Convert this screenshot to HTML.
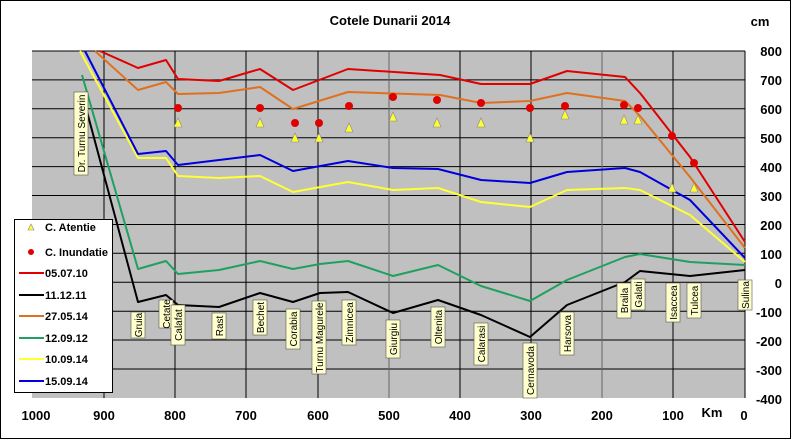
<!DOCTYPE html>
<html><head><meta charset="utf-8"><style>
body{margin:0;background:#fff;}
svg{display:block;font-family:"Liberation Sans",Arial,sans-serif;}
</style></head><body>
<svg width="791" height="439" viewBox="0 0 791 439" xmlns="http://www.w3.org/2000/svg">
<rect x="0.5" y="0.5" width="790" height="438" fill="#fff" stroke="#000"/>
<text x="390" y="25" font-size="13" font-weight="bold" text-anchor="middle">Cotele Dunarii 2014</text>
<text x="760" y="26" font-size="13" font-weight="bold" text-anchor="middle">cm</text>
<rect x="32" y="51" width="713" height="347" fill="#c0c0c0"/>
<g stroke="#000" stroke-width="1">
<line x1="32" x2="745" y1="79.9" y2="79.9"/><line x1="32" x2="745" y1="108.8" y2="108.8"/>
<line x1="32" x2="745" y1="137.8" y2="137.8"/><line x1="32" x2="745" y1="166.6" y2="166.6"/>
<line x1="32" x2="745" y1="195.5" y2="195.5"/><line x1="32" x2="745" y1="224.5" y2="224.5"/>
<line x1="32" x2="745" y1="253.3" y2="253.3"/><line x1="32" x2="745" y1="282.3" y2="282.3"/>
<line x1="32" x2="745" y1="311.2" y2="311.2"/><line x1="32" x2="745" y1="340" y2="340"/>
<line x1="32" x2="745" y1="369" y2="369"/>
<line x1="32" x2="745" y1="51" y2="51"/>
<line x1="104" x2="104" y1="51" y2="398"/><line x1="175" x2="175" y1="51" y2="398"/>
<line x1="246" x2="246" y1="51" y2="398"/><line x1="318" x2="318" y1="51" y2="398"/>
<line x1="389" x2="389" y1="51" y2="398" stroke="#666"/><line x1="460" x2="460" y1="51" y2="398"/>
<line x1="531" x2="531" y1="51" y2="398"/><line x1="602" x2="602" y1="51" y2="398" stroke="#666"/>
<line x1="673" x2="673" y1="51" y2="398"/><line x1="745" x2="745" y1="51" y2="398"/>
</g>
<g fill="none" stroke-width="2" stroke-linejoin="round">
<polyline stroke="#1fa060" points="82,75 138,269 166,261 178,274 219,270 260,261 293,269 320,264 348,261 393,276 438,265 481,286 530,301 567,280 625,257 640,254 690,262 745,265"/>
<polyline stroke="#000" points="82,93 138,302 166,295 178,305 219,307 260,293 293,302 320,293 348,292 393,313 438,300 481,315 530,337 567,305 625,282 640,271 690,276 745,270"/>
<polyline stroke="#ffff33" points="80,51 138,158 166,158 178,176 219,178 260,176 293,192 348,182 393,190 438,188 481,202 530,207 567,190 625,188 640,190 690,215 745,262"/>
<polyline stroke="#0000dd" points="85,51 138,154 166,151 178,165 260,155 293,171 348,161 393,168 438,169 481,180 530,183 567,172 625,168 640,172 690,200 745,258"/>
<polyline stroke="#e07020" points="95,51 138,90 166,82 178,94 219,93 260,87 293,109 348,92 440,95 481,103 530,101 567,93 625,101 640,116 690,177 745,248"/>
<polyline stroke="#e00000" points="100,51 138,68 166,60 178,79 219,81 260,69 293,90 348,69 440,75 481,84 530,84 567,71 625,77 640,93 690,157 745,242"/>
</g>
<g fill="#ffff33" stroke="#888" stroke-width="0.6">
<polygon points="178,118 174,127 182,127"/><polygon points="260,118 256,127 264,127"/>
<polygon points="295,133 291,142 299,142"/><polygon points="319,133 315,142 323,142"/>
<polygon points="349,123 345,132 353,132"/><polygon points="393,112 389,121 397,121"/>
<polygon points="437,118 433,127 441,127"/><polygon points="481,118 477,127 485,127"/>
<polygon points="530,133 526,142 534,142"/><polygon points="565,110 561,119 569,119"/>
<polygon points="624,115 620,124 628,124"/><polygon points="638,115 634,124 642,124"/>
<polygon points="672,183 668,192 676,192"/><polygon points="694,183 690,192 698,192"/>
</g>
<g fill="#e00000">
<circle cx="178" cy="108" r="4"/><circle cx="260" cy="108" r="4"/><circle cx="295" cy="123" r="4"/>
<circle cx="319" cy="123" r="4"/><circle cx="349" cy="106" r="4"/><circle cx="393" cy="97" r="4"/>
<circle cx="437" cy="100" r="4"/><circle cx="481" cy="103" r="4"/><circle cx="530" cy="108" r="4"/>
<circle cx="565" cy="106" r="4"/><circle cx="624" cy="105" r="4"/><circle cx="638" cy="108" r="4"/>
<circle cx="672" cy="136" r="4"/><circle cx="694" cy="163" r="4"/>
</g>
<g font-size="10" fill="#000">
<g stroke="#555" stroke-width="0.6" fill="#ffffcc">
<rect x="74" y="92" width="14" height="83"/>
<rect x="131" y="312" width="14" height="26"/><rect x="159" y="300" width="14" height="28"/>
<rect x="171" y="305" width="14" height="40"/><rect x="212" y="313" width="14" height="26"/>
<rect x="253" y="300" width="14" height="35"/><rect x="286" y="309" width="14" height="40"/>
<rect x="312" y="301" width="14" height="73"/><rect x="342" y="300" width="14" height="45"/>
<rect x="386" y="320" width="14" height="38"/><rect x="431" y="307" width="14" height="40"/>
<rect x="474" y="323" width="14" height="42"/><rect x="523" y="343" width="14" height="55"/>
<rect x="560" y="312" width="14" height="43"/><rect x="617" y="283" width="14" height="35"/>
<rect x="631" y="279" width="14" height="31"/><rect x="666" y="283" width="14" height="39"/>
<rect x="687" y="283" width="14" height="35"/><rect x="738" y="280" width="14" height="30"/>
</g>
<text transform="translate(85,133.5) rotate(-90)" text-anchor="middle">Dr. Turnu Severin</text>
<text transform="translate(142,325) rotate(-90)" text-anchor="middle">Gruia</text>
<text transform="translate(170,314) rotate(-90)" text-anchor="middle">Cetate</text>
<text transform="translate(182,325) rotate(-90)" text-anchor="middle">Calafat</text>
<text transform="translate(223,326) rotate(-90)" text-anchor="middle">Rast</text>
<text transform="translate(264,317.5) rotate(-90)" text-anchor="middle">Bechet</text>
<text transform="translate(297,329) rotate(-90)" text-anchor="middle">Corabia</text>
<text transform="translate(323,337.5) rotate(-90)" text-anchor="middle">Turnu Magurele</text>
<text transform="translate(353,322.5) rotate(-90)" text-anchor="middle">Zimnicea</text>
<text transform="translate(397,339) rotate(-90)" text-anchor="middle">Giurgiu</text>
<text transform="translate(442,327) rotate(-90)" text-anchor="middle">Oltenita</text>
<text transform="translate(485,344) rotate(-90)" text-anchor="middle">Calarasi</text>
<text transform="translate(534,370.5) rotate(-90)" text-anchor="middle">Cernavoda</text>
<text transform="translate(571,333.5) rotate(-90)" text-anchor="middle">Harsova</text>
<text transform="translate(628,300.5) rotate(-90)" text-anchor="middle">Braila</text>
<text transform="translate(642,294.5) rotate(-90)" text-anchor="middle">Galati</text>
<text transform="translate(677,302.5) rotate(-90)" text-anchor="middle">Isaccea</text>
<text transform="translate(698,300.5) rotate(-90)" text-anchor="middle">Tulcea</text>
<text transform="translate(749,295) rotate(-90)" text-anchor="middle">Sulina</text>
</g>
<rect x="14.5" y="219.5" width="98" height="173" fill="#fff" stroke="#000"/>
<g font-size="11" font-weight="bold">
<polygon points="31,224 28,230 34,230" fill="#ffff33" stroke="#888" stroke-width="0.6"/>
<text x="45" y="231">C. Atentie</text>
<circle cx="31" cy="252" r="3" fill="#e00000"/>
<text x="45" y="256">C. Inundatie</text>
<line x1="19" x2="44" y1="273" y2="273" stroke="#e00000" stroke-width="2"/><text x="45" y="277">05.07.10</text>
<line x1="19" x2="44" y1="295" y2="295" stroke="#000" stroke-width="2"/><text x="45" y="299">11.12.11</text>
<line x1="19" x2="44" y1="316" y2="316" stroke="#e07020" stroke-width="2"/><text x="45" y="320">27.05.14</text>
<line x1="19" x2="44" y1="338" y2="338" stroke="#1fa060" stroke-width="2"/><text x="45" y="342">12.09.12</text>
<line x1="19" x2="44" y1="359" y2="359" stroke="#ffff33" stroke-width="2"/><text x="45" y="363">10.09.14</text>
<line x1="19" x2="44" y1="381" y2="381" stroke="#0000dd" stroke-width="2"/><text x="45" y="385">15.09.14</text>
</g>
<g font-size="13" font-weight="bold" text-anchor="end">
<text x="782" y="56">800</text><text x="782" y="85">700</text><text x="782" y="114">600</text>
<text x="782" y="143">500</text><text x="782" y="172">400</text><text x="782" y="201">300</text>
<text x="782" y="230">200</text><text x="782" y="259">100</text><text x="782" y="288">0</text>
<text x="782" y="317">-100</text><text x="782" y="346">-200</text><text x="782" y="375">-300</text>
<text x="782" y="404">-400</text>
</g>
<g font-size="13" font-weight="bold" text-anchor="middle">
<text x="36" y="420">1000</text><text x="104" y="420">900</text><text x="175" y="420">800</text>
<text x="246" y="420">700</text><text x="318" y="420">600</text><text x="389" y="420">500</text>
<text x="460" y="420">400</text><text x="531" y="420">300</text><text x="602" y="420">200</text>
<text x="673" y="420">100</text><text x="712" y="417">Km</text><text x="744" y="420">0</text>
</g>
</svg>
</body></html>
